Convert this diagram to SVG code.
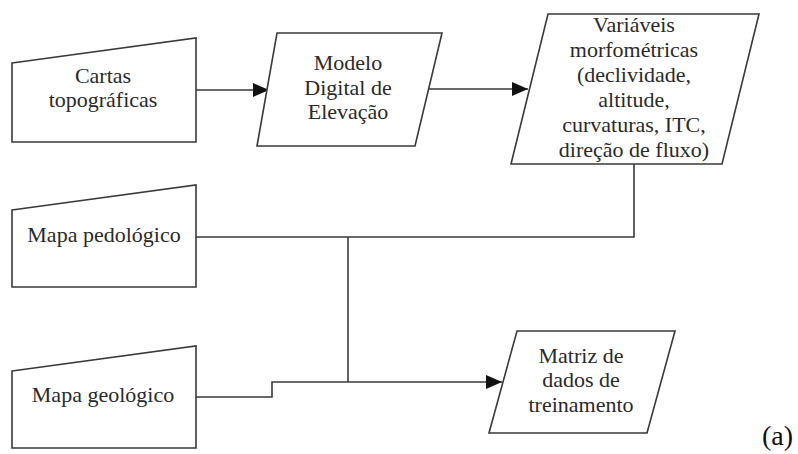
<svg xmlns="http://www.w3.org/2000/svg" width="798" height="454" viewBox="0 0 798 454">
<style>
.s{fill:#fff;stroke:#3a3a3a;stroke-width:1.6;stroke-linejoin:miter}
.c{fill:none;stroke:#3a3a3a;stroke-width:1.6}
text{font-family:"Liberation Serif","Times New Roman",serif;font-size:22px;fill:#2a2a2a;text-anchor:middle}
</style>
<defs>
<marker id="ah" markerUnits="userSpaceOnUse" markerWidth="16" markerHeight="14" refX="16" refY="7" orient="auto">
<path d="M0,0 L16,7 L0,14 Z" fill="#111"/>
</marker>
</defs>
<rect width="798" height="454" fill="#fff"/>
<g id="connectors">
<path class="c" d="M196,90 H269" marker-end="url(#ah)"/>
<path class="c" d="M429,89 H528" marker-end="url(#ah)"/>
<path class="c" d="M634,164 V237 H196"/>
<path class="c" d="M348,237 V382"/>
<path class="c" d="M196,397 H272 V382 H502" marker-end="url(#ah)"/>
</g>
<g id="cartas">
<path class="s" d="M12,63 L196,38 L196,142 L12,142 Z"/>
<text x="103" y="83">Cartas</text>
<text x="103" y="107">topográficas</text>
</g>
<g id="mde">
<path class="s" d="M277,33 L442,33 L415,146 L257,146 Z"/>
<text x="348" y="70">Modelo</text>
<text x="348" y="95">Digital de</text>
<text x="348" y="119">Elevação</text>
</g>
<g id="variaveis">
<path class="s" d="M548,14 L759,14 L722,164 L511,164 Z"/>
<text x="634" y="32">Variáveis</text>
<text x="634" y="57">morfométricas</text>
<text x="634" y="82">(declividade,</text>
<text x="634" y="107">altitude,</text>
<text x="634" y="132">curvaturas, ITC,</text>
<text x="634" y="157">direção de fluxo)</text>
</g>
<g id="pedologico">
<path class="s" d="M12,210 L196,185 L196,287 L12,287 Z"/>
<text x="104" y="242">Mapa pedológico</text>
</g>
<g id="geologico">
<path class="s" d="M12,371 L196,346 L196,448 L12,448 Z"/>
<text x="103" y="402">Mapa geológico</text>
</g>
<g id="matriz">
<path class="s" d="M517,331 L675,331 L647,433 L489,433 Z"/>
<text x="581" y="363">Matriz de</text>
<text x="581" y="387">dados de</text>
<text x="581" y="412">treinamento</text>
</g>
<text x="762" y="445" style="font-size:28px;text-anchor:start;fill:#111">(a)</text>
</svg>
